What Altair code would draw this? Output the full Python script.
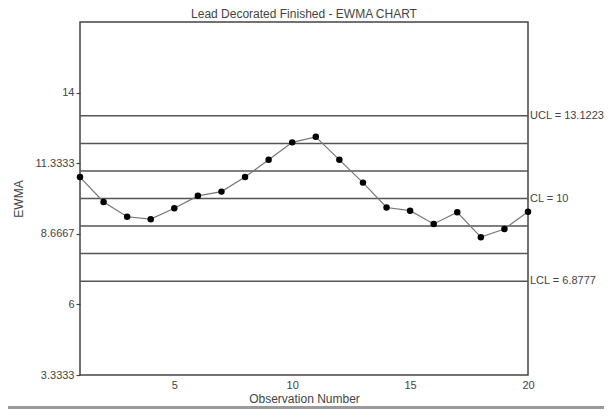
import altair as alt
import pandas as pd

# Data
obs = list(range(1, 21))
ewma = [10.81, 9.87, 9.31, 9.22, 9.63, 10.10, 10.26, 10.81, 11.46, 12.12,
        12.33, 11.46, 10.60, 9.66, 9.54, 9.04, 9.48, 8.54, 8.85, 9.50]

limit_values = [6.8777, 7.9185, 8.9592, 10.0, 11.0408, 12.0815, 13.1223]
limit_labels = ["LCL = 6.8777", "", "", "CL = 10", "", "", "UCL = 13.1223"]

y_ticks = [3.3333, 6, 8.6667, 11.3333, 14]
x_ticks = [5, 10, 15, 20]
y_domain = [3.3333, 16.6667]
x_domain = [1, 20]

W, H = 448, 353
FONT = "Liberation Sans"

df = pd.DataFrame({"obs": obs, "ewma": ewma})
lim = pd.DataFrame({"v": limit_values, "label": limit_labels})

x_enc = alt.X("obs:Q", scale=alt.Scale(domain=x_domain, nice=False, zero=False),
              axis=alt.Axis(values=x_ticks, title="Observation Number", ticks=False,
                            domain=False, grid=False, labelPadding=4, titlePadding=3,
                            labelFontSize=11, titleFontSize=12, titleFontWeight="normal",
                            labelColor="#444", titleColor="#444", labelFont=FONT,
                            titleFont=FONT, labelFlush=False))
y_scale = alt.Scale(domain=y_domain, nice=False, zero=False)
y_enc = alt.Y("ewma:Q", scale=y_scale,
              axis=alt.Axis(values=y_ticks, format=".6~r", title="EWMA", ticks=True,
                            tickSize=4, tickColor="#444", tickWidth=1.2, domain=False,
                            grid=False, labelPadding=2, titlePadding=10,
                            labelFontSize=11, titleFontSize=12, titleFontWeight="normal",
                            labelColor="#444", titleColor="#444", labelFont=FONT,
                            titleFont=FONT))

rules = alt.Chart(lim).mark_rule(color="#555", strokeWidth=1.5).encode(
    y=alt.Y("v:Q", scale=y_scale)
)
rule_text = alt.Chart(lim).mark_text(align="left", baseline="middle", fontSize=11,
                                     font=FONT, color="#444", dx=2).encode(
    y=alt.Y("v:Q", scale=y_scale),
    x=alt.value(W),
    text="label:N",
)

line = alt.Chart(df).mark_line(color="#777", strokeWidth=1.2).encode(x=x_enc, y=y_enc)
pts = alt.Chart(df).mark_circle(color="black", opacity=1, size=42).encode(x=x_enc, y=y_enc)

shadow = alt.Chart(df).mark_rule(color="#9a9a9a", strokeWidth=3, clip=False).encode(
    x=alt.value(-73), x2=alt.value(W + 76), y=alt.value(H + 33)
)

chart = alt.layer(rules, line, pts, rule_text, shadow).properties(
    width=W, height=H,
    title=alt.TitleParams("Lead Decorated Finished - EWMA CHART", fontSize=12,
                          font=FONT, fontWeight="normal", color="#444", offset=1),
    autosize=alt.AutoSizeParams(type="none"),
    padding={"left": 72, "top": 14, "right": 76, "bottom": 34},
).configure(background="white").configure_view(stroke="#444", strokeWidth=1.5)

chart.save("out.html", embed_options={"renderer": "svg", "actions": False})
